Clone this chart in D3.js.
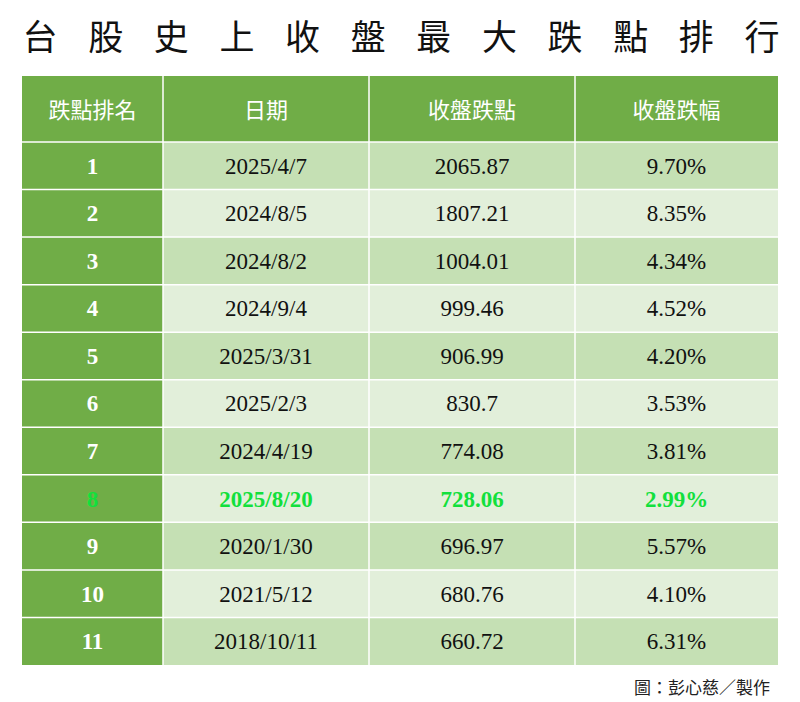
<!DOCTYPE html>
<html>
<head>
<meta charset="utf-8">
<script src="https://cdn.jsdelivr.net/npm/d3@7"></script>
<style>
  body { margin: 0; background: #fff; }
</style>
</head>
<body>
<svg id="chart" width="800" height="702"></svg>
<script>
const title = '台股史上收盤最大跌點排行'
const headers = ['跌點排名', '日期', '收盤跌點', '收盤跌幅']
const ranks = ['1', '2', '3', '4', '5', '6', '7', '8', '9', '10', '11']
const dates = ['2025/4/7', '2024/8/5', '2024/8/2', '2024/9/4', '2025/3/31', '2025/2/3',
  '2024/4/19', '2025/8/20', '2020/1/30', '2021/5/12', '2018/10/11']
const points = ['2065.87', '1807.21', '1004.01', '999.46', '906.99', '830.7',
  '774.08', '728.06', '696.97', '680.76', '660.72']
const pcts = ['9.70%', '8.35%', '4.34%', '4.52%', '4.20%', '3.53%',
  '3.81%', '2.99%', '5.57%', '4.10%', '6.31%']
const highlight = '8'
const source = '圖：彭心慈／製作'

const svg = d3.select('#chart')
const green = '#70ad47'
const serif = '"Liberation Serif", "Times New Roman", serif'
const cjk = '"Noto Sans CJK TC", sans-serif'

// title, characters spread across the width
const tx = d3.scalePoint().domain(d3.range(title.length)).range([40, 762])
svg.selectAll('text.title')
  .data(title.split(''))
  .join('text')
  .attr('class', 'title')
  .attr('x', (d, i) => tx(i))
  .attr('y', 50)
  .attr('text-anchor', 'middle')
  .style('font-family', cjk)
  .style('font-size', '35px')
  .style('fill', '#111')
  .text(d => d)

// columns
const colEdges = [22, 163, 369, 575, 778]
const colX = i => colEdges[i]
const colW = i => colEdges[i + 1] - colEdges[i]

// rows
const y = d3.scaleBand().domain(ranks).range([142, 665])
const rows = ranks.map((r, i) => [r, dates[i], points[i], pcts[i]])

// header
svg.append('rect')
  .attr('x', 22).attr('y', 76).attr('width', 756).attr('height', 66)
  .attr('fill', green)
svg.selectAll('text.head')
  .data(headers)
  .join('text')
  .attr('class', 'head')
  .attr('x', (d, i) => colX(i) + colW(i) / 2)
  .attr('y', 118)
  .attr('text-anchor', 'middle')
  .style('font-family', cjk)
  .style('font-size', '22px')
  .style('fill', '#fff')
  .text(d => d)

const rowG = svg.selectAll('g.row')
  .data(rows)
  .join('g')
  .attr('class', 'row')
  .attr('transform', d => `translate(0,${y(d[0])})`)

rowG.selectAll('rect')
  .data((d, ri) => d.map((v, ci) => ({ v, ci, ri })))
  .join('rect')
  .attr('x', d => colX(d.ci))
  .attr('width', d => colW(d.ci))
  .attr('height', y.bandwidth())
  .attr('fill', d => d.ci === 0 ? green : (d.ri % 2 === 0 ? '#c5e0b4' : '#e2efda'))

rowG.selectAll('text')
  .data(d => d.map((v, ci) => ({ v, ci, hl: d[0] === highlight })))
  .join('text')
  .attr('x', d => colX(d.ci) + colW(d.ci) / 2)
  .attr('y', y.bandwidth() / 2 + 8)
  .attr('text-anchor', 'middle')
  .style('font-family', serif)
  .style('font-size', '23px')
  .style('font-weight', d => (d.ci === 0 || d.hl) ? 'bold' : 'normal')
  .style('fill', d => d.hl ? '#12e03c' : (d.ci === 0 ? '#fff' : '#111'))
  .text(d => d.v)

// white grid lines
svg.selectAll('line.v')
  .data(colEdges.slice(1, -1))
  .join('line')
  .attr('x1', d => d).attr('x2', d => d)
  .attr('y1', 76).attr('y2', 665)
  .attr('stroke', '#fff').attr('stroke-width', 1.5)
svg.selectAll('line.h')
  .data(ranks)
  .join('line')
  .attr('x1', 22).attr('x2', 778)
  .attr('y1', d => y(d)).attr('y2', d => y(d))
  .attr('stroke', '#fff').attr('stroke-width', 1.5)

svg.append('text')
  .attr('x', 770).attr('y', 694)
  .attr('text-anchor', 'end')
  .style('font-family', cjk)
  .style('font-size', '17px')
  .style('fill', '#222')
  .text(source)
</script>
</body>
</html>
